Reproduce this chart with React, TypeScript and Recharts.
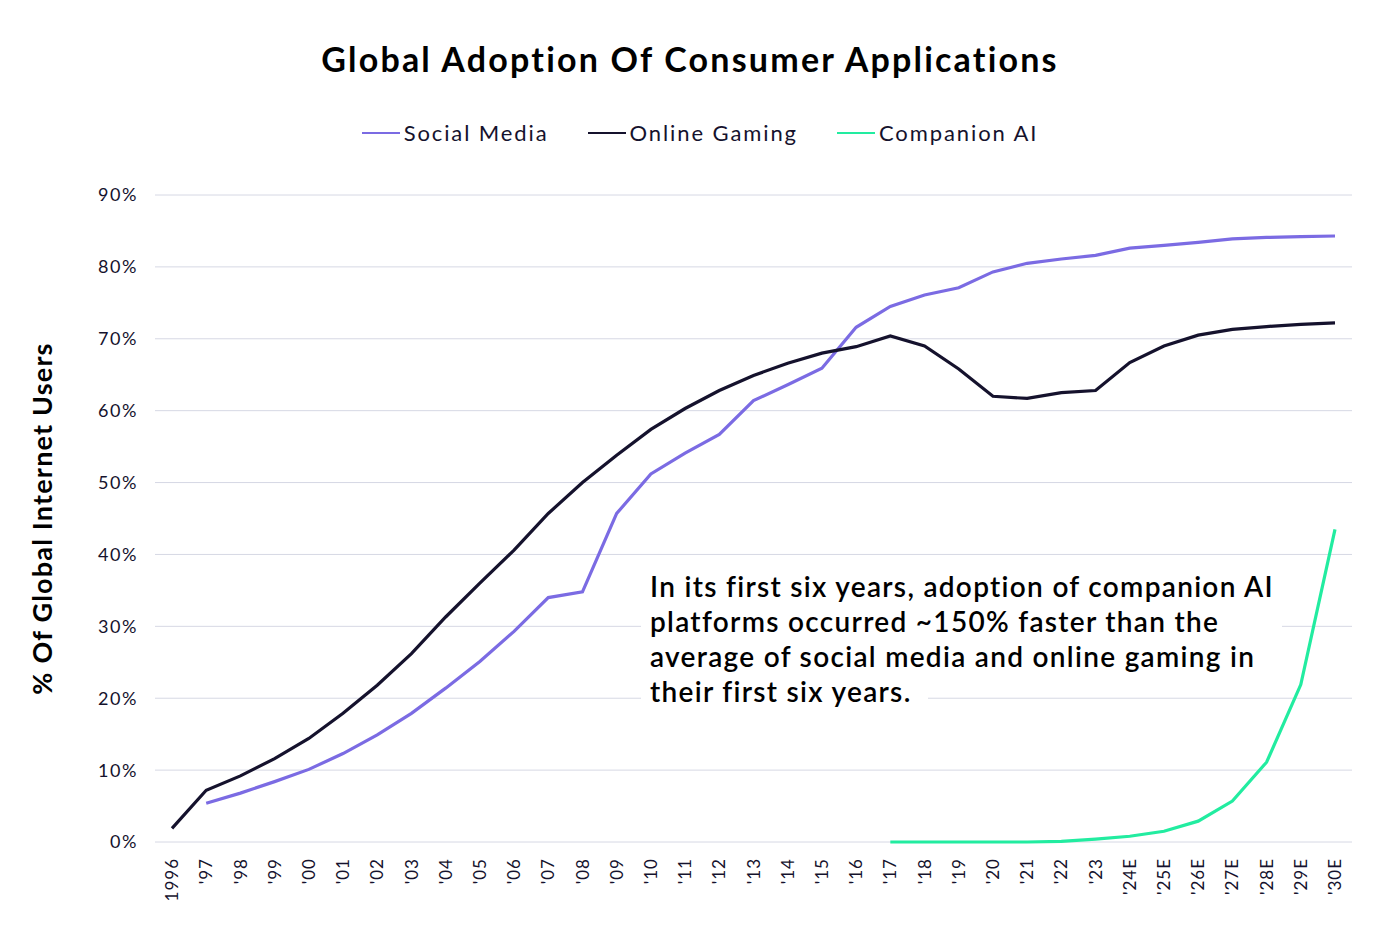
import React from 'react';
import { LineChart, Line, XAxis, YAxis, CartesianGrid } from 'recharts';

// x-axis categories
const years = [
  '1996', "'97", "'98", "'99", "'00", "'01", "'02", "'03", "'04", "'05", "'06", "'07",
  "'08", "'09", "'10", "'11", "'12", "'13", "'14", "'15", "'16", "'17", "'18", "'19",
  "'20", "'21", "'22", "'23", "'24E", "'25E", "'26E", "'27E", "'28E", "'29E", "'30E",
];

// % of global internet users
const socialMedia = [
  null, 5.4, 6.8, 8.4, 10.1, 12.3, 14.9, 17.9, 21.4, 25.1, 29.3, 34.0,
  34.8, 45.7, 51.2, 54.1, 56.7, 61.4, 63.6, 65.9, 71.6, 74.5, 76.1, 77.1,
  79.3, 80.5, 81.1, 81.6, 82.6, 83.0, 83.4, 83.9, 84.1, 84.2, 84.3,
];
const onlineGaming = [
  1.9, 7.2, 9.2, 11.6, 14.4, 17.9, 21.8, 26.2, 31.3, 36.0, 40.6, 45.7,
  50.0, 53.8, 57.4, 60.3, 62.8, 64.9, 66.6, 68.0, 68.9, 70.4, 69.0, 65.8,
  62.0, 61.7, 62.5, 62.8, 66.7, 69.0, 70.5, 71.3, 71.7, 72.0, 72.2,
];
const companionAI = [
  null, null, null, null, null, null, null, null, null, null, null, null,
  null, null, null, null, null, null, null, null, null, 0, 0, 0,
  0, 0, 0.1, 0.4, 0.8, 1.5, 2.9, 5.7, 11.1, 21.9, 43.5,
];

const yTicks = [0, 10, 20, 30, 40, 50, 60, 70, 80, 90];

const annotationLines = [
  'In its first six years, adoption of companion AI',
  'platforms occurred ~150% faster than the',
  'average of social media and online gaming in',
  'their first six years.',
];

const colors = {
  social: '#7b6be3',
  gaming: '#15122d',
  companion: '#22eca0',
  grid: '#d6d8e4',
  text: '#15122d',
};

const legendItems = [
  { name: 'Social Media', color: colors.social },
  { name: 'Online Gaming', color: colors.gaming },
  { name: 'Companion AI', color: colors.companion },
];

const data = years.map((year, i) => ({
  year,
  social: socialMedia[i],
  gaming: onlineGaming[i],
  companion: companionAI[i],
}));

const FONT = 'Lato, "Noto Sans", sans-serif';

const YearTick = (props: any) => {
  const { x, y, payload } = props;
  return (
    <text
      x={x}
      y={y + 8}
      transform={`rotate(-90, ${x}, ${y + 8})`}
      textAnchor="end"
      dy="0.36em"
      fontSize={17}
      letterSpacing={1}
      fontFamily={FONT}
      fill={colors.text}
    >
      {payload.value}
    </text>
  );
};

export default function App() {
  return (
    <div
      style={{
        position: 'relative', width: 1380, height: 951, background: '#fff', fontFamily: FONT,
        fontVariantLigatures: 'none',
      }}
    >
      <style>{`body { margin: 0; } svg text { font-variant-ligatures: none; }`}</style>

      <div
        style={{
          position: 'absolute', top: 42, left: 0, width: 1380, textAlign: 'center',
          fontSize: 34, lineHeight: '34px', fontWeight: 700, color: '#000', letterSpacing: 2.2,
        }}
      >
        Global Adoption Of Consumer Applications
      </div>

      <div
        style={{
          position: 'absolute', top: 120, left: 10, width: 1380, display: 'flex',
          justifyContent: 'center', gap: 39, fontSize: 22, lineHeight: '26px', color: colors.text,
          letterSpacing: 1.9,
        }}
      >
        {legendItems.map((item) => (
          <div key={item.name} style={{ display: 'flex', alignItems: 'center' }}>
            <svg width={38} height={4} style={{ marginRight: 4 }}>
              <line x1={0} y1={2} x2={38} y2={2} stroke={item.color} strokeWidth={2} />
            </svg>
            <span>{item.name}</span>
          </div>
        ))}
      </div>

      <div style={{ position: 'absolute', top: 0, left: 0 }}>
        <LineChart
          width={1380}
          height={951}
          data={data}
          margin={{ top: 195, right: 28, bottom: 0, left: 20 }}
        >
          <CartesianGrid stroke={colors.grid} vertical={false} />
          <XAxis
            dataKey="year"
            interval={0}
            height={109}
            axisLine={false}
            tickLine={false}
            padding={{ left: 17, right: 17 }}
            tick={<YearTick />}
          />
          <YAxis
            width={135}
            domain={[0, 90]}
            ticks={yTicks}
            tickFormatter={(v) => `${v}%`}
            axisLine={false}
            tickLine={false}
            tickSize={0}
            tickMargin={17}
            tick={{ fill: colors.text, fontSize: 18, fontFamily: FONT, letterSpacing: 1.6 }}
            label={{
              value: '% Of Global Internet Users',
              angle: -90,
              position: 'insideLeft',
              offset: 22,
              style: {
                textAnchor: 'middle', fontSize: 27, fontWeight: 700, fill: '#000',
                fontFamily: FONT, letterSpacing: 1.2,
              },
            }}
          />
          <Line
            type="linear"
            dataKey="social"
            name="Social Media"
            stroke={colors.social}
            strokeWidth={3.2}
            dot={false}
            isAnimationActive={false}
          />
          <Line
            type="linear"
            dataKey="gaming"
            name="Online Gaming"
            stroke={colors.gaming}
            strokeWidth={3.2}
            dot={false}
            isAnimationActive={false}
          />
          <Line
            type="linear"
            dataKey="companion"
            name="Companion AI"
            stroke={colors.companion}
            strokeWidth={3.2}
            dot={false}
            isAnimationActive={false}
          />
        </LineChart>
      </div>

      <div
        style={{
          position: 'absolute', top: 569, left: 641, fontSize: 28, lineHeight: '35px',
          fontWeight: 600, color: '#000', letterSpacing: 1.3,
        }}
      >
        <div style={{ background: '#fff', width: 632, paddingLeft: 9 }}>
          {annotationLines.slice(0, 3).map((l) => (
            <div key={l}>{l}</div>
          ))}
        </div>
        <div style={{ display: 'inline-block', background: '#fff', paddingLeft: 9, paddingRight: 16 }}>
          {annotationLines[3]}
        </div>
      </div>
    </div>
  );
}
